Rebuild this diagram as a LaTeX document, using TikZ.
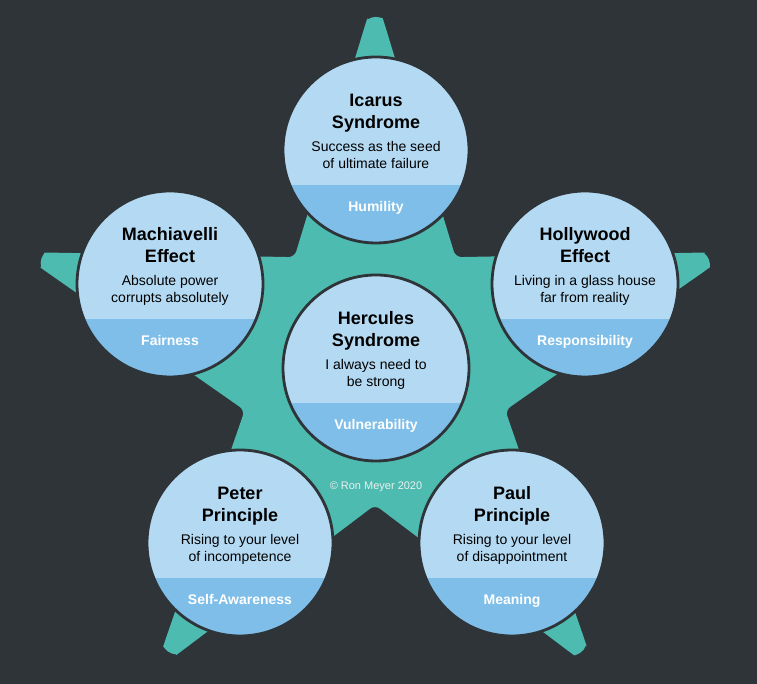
\documentclass[tikz,border=0pt]{standalone}
\usepackage{fontspec}
\setmainfont{Liberation Sans}
\usepackage{tikz}
\usetikzlibrary{calc}
\definecolor{slate}{RGB}{ 46, 52, 56 }
\definecolor{seagreen}{RGB}{ 77, 187, 176 }
\definecolor{paleblue}{RGB}{ 180, 218, 243 }
\definecolor{midblue}{RGB}{ 126, 190, 232 }

\begin{document}
\begin{tikzpicture}[x=1pt,y=1pt,font=\fontsize{14}{17}\selectfont]
\tikzstyle{bubble}=[circle,draw=slate,line width=2.8pt,fill=paleblue,minimum size=186pt,inner sep=0pt,
    path picture={\fill[midblue] ($(path picture bounding box.south west)+(-5,-5)$) rectangle ($(path picture bounding box.south east)+(5,58)$);}]
\tikzstyle{title}=[anchor=north,align=center,inner sep=0pt,font=\fontsize{18}{22}\selectfont\bfseries]
\tikzstyle{sub}=[anchor=north,align=center,inner sep=0pt,font=\fontsize{14}{17}\selectfont]
\tikzstyle{tag}=[anchor=base,inner sep=0pt,text=white,font=\fontsize{14}{17}\selectfont\bfseries]

% background
\fill[slate] (0,0) rectangle (757,684);
\useasboundingbox (0,0) rectangle (757,684);

% star, round tips
\coordinate (s) at (375,316);
\fill[seagreen,rounded corners=6pt]
    ($(s)+(90:341)+(18:10)$) arc[start angle=18,end angle=162,radius=10pt]
    -- ($(s)+(126:137)$)
    -- ($(s)+(162:341)+(90:10)$) arc[start angle=90,end angle=234,radius=10pt]
    -- ($(s)+(198:137)$)
    -- ($(s)+(234:341)+(162:10)$) arc[start angle=162,end angle=306,radius=10pt]
    -- ($(s)+(270:137)$)
    -- ($(s)+(306:341)+(234:10)$) arc[start angle=234,end angle=378,radius=10pt]
    -- ($(s)+(342:137)$)
    -- ($(s)+(18:341)+(306:10)$) arc[start angle=306,end angle=450,radius=10pt]
    -- ($(s)+(54:137)$) -- cycle;

% centre circle
\node(0)[bubble] at (376,316){};
\node[title] at ($(0)+(0,56.5)$) {Hercules\\Syndrome};
\node[sub] at ($(0)+(0,9)$) {I always need to\\be strong};
\node[tag] at ($(0)+(0,-62)$) {Vulnerability};

% top
\node(1)[bubble] at (376,534){};
\node[title] at ($(1)+(0,56.5)$) {Icarus\\Syndrome};
\node[sub] at ($(1)+(0,9)$) {Success as the seed\\of ultimate failure};
\node[tag] at ($(1)+(0,-62)$) {Humility};

% right
\node(2)[bubble] at (585,400){};
\node[title] at ($(2)+(0,56.5)$) {Hollywood\\Effect};
\node[sub] at ($(2)+(0,9)$) {Living in a glass house\\far from reality};
\node[tag] at ($(2)+(0,-62)$) {Responsibility};

% bottom right
\node(3)[bubble] at (512,141){};
\node[title] at ($(3)+(0,56.5)$) {Paul\\Principle};
\node[sub] at ($(3)+(0,9)$) {Rising to your level\\of disappointment};
\node[tag] at ($(3)+(0,-62)$) {Meaning};

% bottom left
\node(4)[bubble] at (240,141){};
\node[title] at ($(4)+(0,56.5)$) {Peter\\Principle};
\node[sub] at ($(4)+(0,9)$) {Rising to your level\\of incompetence};
\node[tag] at ($(4)+(0,-62)$) {Self-Awareness};

% left
\node(5)[bubble] at (170,400){};
\node[title] at ($(5)+(0,56.5)$) {Machiavelli\\Effect};
\node[sub] at ($(5)+(0,9)$) {Absolute power\\corrupts absolutely};
\node[tag] at ($(5)+(0,-62)$) {Fairness};

% credit
\node(6)[anchor=base,inner sep=0pt,text=white!92!slate,font=\fontsize{11}{13}\selectfont] at (376,194) {© Ron Meyer 2020};

\end{tikzpicture}
\end{document}
